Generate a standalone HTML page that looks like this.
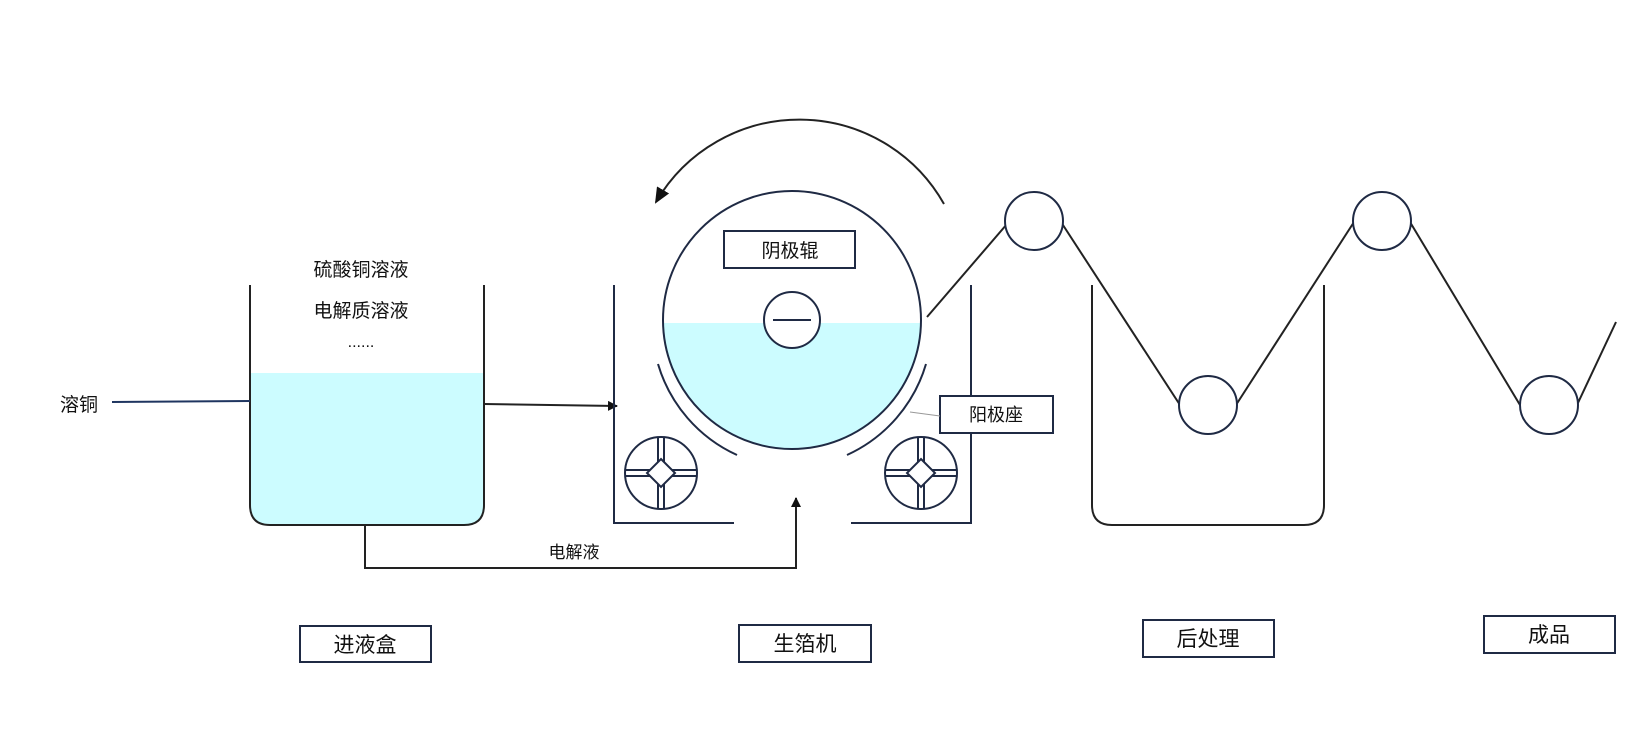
<!DOCTYPE html>
<html><head><meta charset="utf-8"><style>
html,body{margin:0;padding:0;background:#fff}
svg{display:block}
text{font-family:"Liberation Sans","Noto Sans CJK SC",sans-serif;fill:#111}
</style></head><body>
<svg width="1647" height="750" viewBox="0 0 1647 750" xmlns="http://www.w3.org/2000/svg">
<defs>
<marker id="ah" markerWidth="10" markerHeight="10" refX="9" refY="5" orient="auto" markerUnits="userSpaceOnUse">
<path d="M0,0 L10,5 L0,10 z" fill="#111"/></marker>
<marker id="ah2" markerWidth="16" markerHeight="14" refX="14" refY="7" orient="auto" markerUnits="userSpaceOnUse">
<path d="M0,0 L16,7 L0,14 z" fill="#111"/></marker>
</defs>
<g stroke="#1f2a44" stroke-width="2" fill="none">
<path d="M250,373 L484,373 L484,505 Q484,525 464,525 L270,525 Q250,525 250,505 Z" fill="#ccfcff" stroke="none"/>
<path d="M250,285 L250,505 Q250,525 270,525 L464,525 Q484,525 484,505 L484,285" stroke="#222"/>
<line x1="112" y1="402" x2="250" y2="401" stroke="#1f3560"/>
<line x1="484" y1="404" x2="617" y2="406" stroke="#222" marker-end="url(#ah)"/>
<polyline points="365,525 365,568 796,568 796,498" stroke="#222" marker-end="url(#ah)"/>
<polyline points="614,285 614,523 734,523"/>
<polyline points="851,523 971,523 971,285"/>
<clipPath id="cc"><circle cx="792" cy="320" r="129"/></clipPath>
<rect x="660" y="323" width="270" height="130" fill="#ccfcff" stroke="none" clip-path="url(#cc)"/>
<circle cx="792" cy="320" r="129"/>
<circle cx="792" cy="320" r="28" fill="#fff"/>
<line x1="773" y1="320" x2="811" y2="320"/>
<path d="M658,364 A145,145 0 0 0 737,455"/>
<path d="M926,364 A145,145 0 0 1 847,455"/>
<path d="M944,204 A166,166 0 0 0 656,202" stroke="#222" marker-end="url(#ah2)"/>
<g id="w1">
<circle cx="661" cy="473" r="36" fill="#fff"/>
<path d="M661,459 L675,473 L661,487 L647,473 Z"/>
<line x1="658" y1="437" x2="658" y2="462"/><line x1="664" y1="437" x2="664" y2="462"/>
<line x1="658" y1="484" x2="658" y2="509"/><line x1="664" y1="484" x2="664" y2="509"/>
<line x1="625" y1="470" x2="650" y2="470"/><line x1="625" y1="476" x2="650" y2="476"/>
<line x1="672" y1="470" x2="697" y2="470"/><line x1="672" y1="476" x2="697" y2="476"/>
</g>
<use href="#w1" transform="translate(260,0)"/>
<rect x="724" y="231" width="131" height="37" fill="#fff"/>
<rect x="940" y="396" width="113" height="37" fill="#fff"/>
<line x1="910" y1="412" x2="940" y2="416" stroke="#999" stroke-width="1"/>
<line x1="927" y1="317" x2="1007" y2="224" stroke="#222"/>
<line x1="1061" y1="222" x2="1180" y2="405" stroke="#222"/>
<line x1="1236" y1="405" x2="1354" y2="222" stroke="#222"/>
<line x1="1410" y1="222" x2="1520" y2="405" stroke="#222"/>
<line x1="1577" y1="405" x2="1616" y2="322" stroke="#222"/>
<circle cx="1034" cy="221" r="29" fill="#fff"/>
<circle cx="1208" cy="405" r="29" fill="#fff"/>
<circle cx="1382" cy="221" r="29" fill="#fff"/>
<circle cx="1549" cy="405" r="29" fill="#fff"/>
<path d="M1092,285 L1092,505 Q1092,525 1112,525 L1304,525 Q1324,525 1324,505 L1324,285" stroke="#222"/>
<rect x="300" y="626" width="131" height="36"/>
<rect x="739" y="625" width="132" height="37"/>
<rect x="1143" y="620" width="131" height="37"/>
<rect x="1484" y="616" width="131" height="37"/>
</g>
<g font-size="19" text-anchor="middle">
<text x="361" y="276">硫酸铜溶液</text>
<text x="361" y="317">电解质溶液</text>
<text x="361" y="347" font-size="16">......</text>
<text x="79" y="411">溶铜</text>
<text x="574" y="558" font-size="17">电解液</text>
<text x="790" y="257">阴极辊</text>
<text x="996" y="421" font-size="18">阳极座</text>
<text x="365" y="652" font-size="21">进液盒</text>
<text x="805" y="651" font-size="21">生箔机</text>
<text x="1208" y="646" font-size="21">后处理</text>
<text x="1549" y="642" font-size="21">成品</text>
</g>
</svg>
</body></html>
